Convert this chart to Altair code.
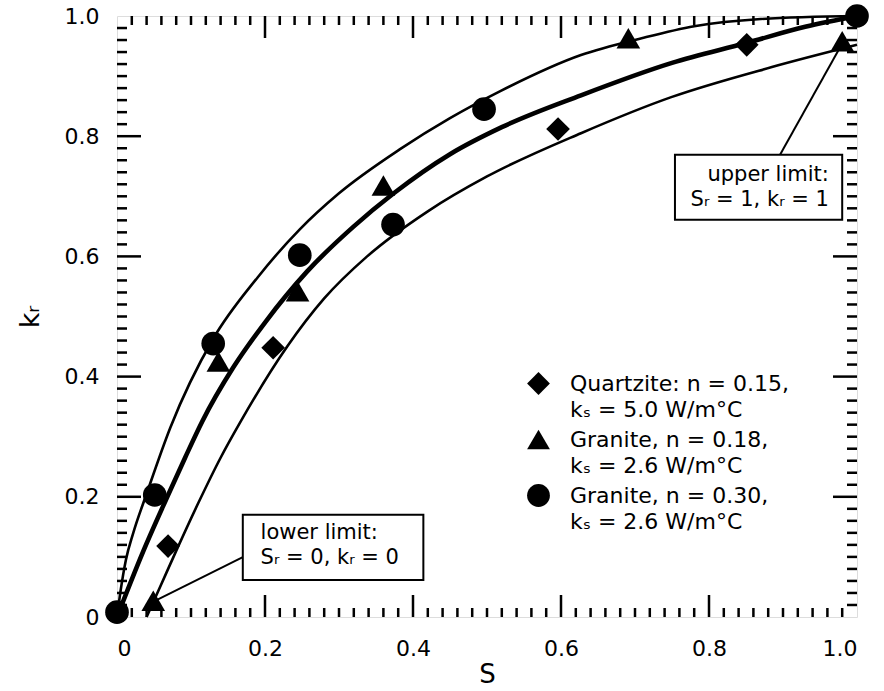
import altair as alt
import pandas as pd

# ---- curves ----
S_upper = [0.0, 0.005, 0.012, 0.022, 0.04, 0.072, 0.13, 0.19, 0.247, 0.3, 0.382, 0.45, 0.518, 0.627, 0.709, 0.78, 0.87, 1.0]
k_upper = [0.0, 0.045, 0.095, 0.14, 0.205, 0.315, 0.463, 0.565, 0.645, 0.705, 0.778, 0.83, 0.875, 0.935, 0.963, 0.983, 0.995, 1.0]
S_mid = [0.0, 0.035, 0.068, 0.092, 0.115, 0.157, 0.2, 0.257, 0.32, 0.374, 0.45, 0.52, 0.627, 0.75, 0.85, 0.93, 1.0]
k_mid = [0.0, 0.108, 0.20, 0.265, 0.325, 0.415, 0.49, 0.575, 0.65, 0.705, 0.77, 0.815, 0.868, 0.922, 0.955, 0.982, 1.0]
S_low = [0.04, 0.06, 0.08, 0.11, 0.14, 0.167, 0.23, 0.28, 0.338, 0.42, 0.5, 0.627, 0.749, 0.885, 1.0]
k_low = [0.0, 0.055, 0.11, 0.19, 0.265, 0.325, 0.45, 0.53, 0.60, 0.675, 0.733, 0.805, 0.865, 0.915, 0.952]

# ---- measured points ----
labels = [
    "Quartzite: n = 0.15,|kₛ = 5.0 W/m°C",
    "Granite, n = 0.18,|kₛ = 2.6 W/m°C",
    "Granite, n = 0.30,|kₛ = 2.6 W/m°C",
]
S_quartzite = [0.069, 0.211, 0.596, 0.851]
k_quartzite = [0.118, 0.448, 0.812, 0.952]
S_gran18 = [0.049, 0.137, 0.244, 0.36, 0.691, 0.98]
k_gran18 = [0.027, 0.425, 0.542, 0.718, 0.963, 0.958]
S_gran30 = [0.0, 0.051, 0.130, 0.247, 0.373, 0.496, 1.0]
k_gran30 = [0.008, 0.203, 0.455, 0.602, 0.653, 0.845, 1.0]

major_ticks = [0.0, 0.2, 0.4, 0.6, 0.8, 1.0]
minor_ticks = [round(i * 0.02, 2) for i in range(1, 50) if i % 10 != 0]

# ---- tables ----
curves = pd.concat([
    pd.DataFrame({"S": S_upper, "k": k_upper, "curve": "upper", "w": 2.6}),
    pd.DataFrame({"S": S_mid, "k": k_mid, "curve": "mid", "w": 4.6}),
    pd.DataFrame({"S": S_low, "k": k_low, "curve": "low", "w": 2.6}),
])
points = pd.concat([
    pd.DataFrame({"S": S_quartzite, "k": k_quartzite, "material": labels[0]}),
    pd.DataFrame({"S": S_gran18, "k": k_gran18, "material": labels[1]}),
    pd.DataFrame({"S": S_gran30, "k": k_gran30, "material": labels[2]}),
])

FONT = "DejaVu Sans"
sx = alt.Scale(domain=[0, 1], nice=False, zero=False)
sy = alt.Scale(domain=[0, 1], nice=False, zero=False)
lab_expr = "datum.value == 0 ? '0' : format(datum.value, '.1f')"
ax_x = alt.Axis(values=major_ticks, labelExpr=lab_expr, ticks=False, domain=False, grid=False,
                labelFont=FONT, labelFontSize=22, labelPadding=21, labelColor="black",
                title="S", titleFont=FONT, titleFontSize=26, titleFontWeight="normal",
                titlePadding=2, titleColor="black")
ax_y = alt.Axis(values=major_ticks, labelExpr=lab_expr, ticks=False, domain=False, grid=False,
                labelFont=FONT, labelFontSize=22, labelPadding=18, labelColor="black",
                title="kᵣ", titleFont=FONT, titleFontSize=27, titleFontWeight="normal",
                titlePadding=20, titleColor="black")
X = alt.X("S:Q", scale=sx, axis=ax_x)
Y = alt.Y("k:Q", scale=sy, axis=ax_y)

W, H = 740, 601

lines = alt.Chart(curves).mark_line(interpolate="monotone", color="black").encode(
    x=X, y=Y, detail="curve:N",
    strokeWidth=alt.StrokeWidth("w:Q", scale=None, legend=None),
)

pts = alt.Chart(points).mark_point(filled=True, color="black", opacity=1, size=560).encode(
    x=X, y=Y,
    shape=alt.Shape("material:N",
                    scale=alt.Scale(domain=labels, range=["diamond", "triangle-up", "circle"]),
                    legend=alt.Legend(title=None, orient="none", legendX=410, legendY=356,
                                      labelExpr="split(datum.label, '|')",
                                      labelFont=FONT, labelFontSize=22, labelColor="black",
                                      labelOffset=20, rowPadding=7, symbolSize=520,
                                      symbolFillColor="black", symbolStrokeColor="black",
                                      symbolStrokeWidth=0, symbolOpacity=1, labelLimit=400)),
)

# inward ticks on all four sides
xt_major = pd.DataFrame({"S": major_ticks[1:-1]})
xt_minor = pd.DataFrame({"S": minor_ticks})
yt_major = pd.DataFrame({"k": major_ticks[1:-1]})
yt_minor = pd.DataFrame({"k": minor_ticks})

def xticks(df, length):
    bot = alt.Chart(df).mark_rule(color="black", strokeWidth=2.5).encode(
        x=X, y=alt.value(H), y2=alt.value(H - length))
    top = alt.Chart(df).mark_rule(color="black", strokeWidth=2.5).encode(
        x=X, y=alt.value(0), y2=alt.value(length))
    return bot + top

def yticks(df, length):
    left = alt.Chart(df).mark_rule(color="black", strokeWidth=2.5).encode(
        y=Y, x=alt.value(0), x2=alt.value(length))
    right = alt.Chart(df).mark_rule(color="black", strokeWidth=2.5).encode(
        y=Y, x=alt.value(W), x2=alt.value(W - length))
    return left + right

ticks = xticks(xt_major, 22) + xticks(xt_minor, 9) + yticks(yt_major, 24) + yticks(yt_minor, 10)

# annotation boxes
box_S = [0.754, 0.170]
box_S2 = [0.980, 0.414]
box_k = [0.769, 0.170]
box_k2 = [0.661, 0.0616]
boxes = pd.DataFrame({"S": box_S, "S2": box_S2, "k": box_k, "k2": box_k2})
box_layer = alt.Chart(boxes).mark_rect(fill="white", stroke="black", strokeWidth=2).encode(
    x=X, x2="S2:Q", y=Y, y2="k2:Q")

lead_S = [0.896, 0.170]
lead_k = [0.769, 0.0998]
lead_S2 = [0.984, 0.0405]
lead_k2 = [0.963, 0.020]
leads = pd.DataFrame({"S": lead_S, "k": lead_k, "S2": lead_S2, "k2": lead_k2})
lead_layer = alt.Chart(leads).mark_rule(color="black", strokeWidth=2).encode(
    x=X, y=Y, x2="S2:Q", y2="k2:Q")

up_text = pd.DataFrame({"S": [0.962], "k": [0.726], "t": ["upper limit:|Sᵣ = 1, kᵣ = 1"]})
low_text = pd.DataFrame({"S": [0.194], "k": [0.130], "t": ["lower limit:|Sᵣ = 0, kᵣ = 0"]})
up_layer = alt.Chart(up_text).mark_text(align="right", baseline="alphabetic", font=FONT,
                                        fontSize=21, lineBreak="|", lineHeight=25,
                                        color="black").encode(x=X, y=Y, text="t:N")
low_layer = alt.Chart(low_text).mark_text(align="left", baseline="alphabetic", font=FONT,
                                          fontSize=21, lineBreak="|", lineHeight=25,
                                          color="black").encode(x=X, y=Y, text="t:N")

chart = alt.layer(ticks, lines, lead_layer, box_layer, up_layer, low_layer, pts).properties(
    width=W, height=H,
    autosize=alt.AutoSizeParams(type="none"),
    padding={"left": 117, "top": 16, "right": 27, "bottom": 74},
).configure_view(stroke="black", strokeWidth=5).configure(
    background="white",
    style={"guide-label": {"lineHeight": 26}},
)

chart.save("out.html", embed_options={"renderer": "svg", "actions": False})
